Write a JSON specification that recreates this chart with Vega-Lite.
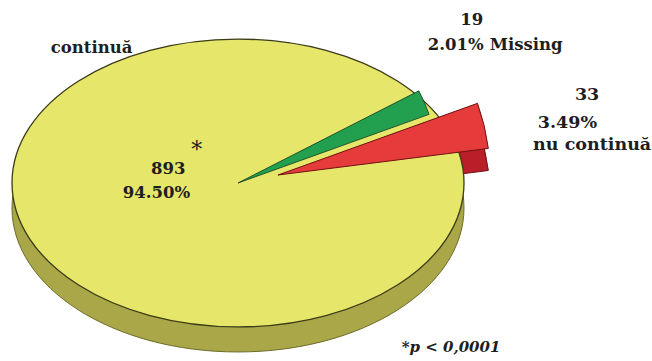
{
  "$schema": "https://vega.github.io/schema/vega-lite/v6.json",
  "width": 476,
  "height": 356,
  "autosize": {"type": "none"},
  "padding": {"left": 0, "top": 5, "right": 176, "bottom": 0},
  "background": "white",
  "config": {
    "view": {"stroke": null},
    "text": {"font": "DejaVu Serif", "fontWeight": "bold", "fontSize": 16.5, "fill": "#1e1e1e", "baseline": "middle"}
  },
  "data": {
    "values": [
      {"category": "continuă", "n": 893, "share": 0.945},
      {"category": "Missing", "n": 19, "share": 0.0201},
      {"category": "nu continuă", "n": 33, "share": 0.0349}
    ]
  },
  "layer": [
    {
      "transform": [{"filter": "datum.category === 'continuă'"}],
      "mark": {"type": "point", "shape": "M-1,0A1,0.637,0,1,1,1,0A1,0.637,0,1,1,-1,0Z", "size": 204304, "filled": true, "opacity": 1, "fill": "#A9A747", "stroke": "#6d6c2c", "strokeWidth": 1, "yOffset": 25}
    },
    {
      "mark": {"type": "arc", "radius": 212, "xOffset": 40, "yOffset": 14, "fill": "#B81F29", "stroke": "#6e1014", "strokeWidth": 1},
      "encoding": {
        "theta": {"field": "n", "type": "quantitative", "stack": true, "scale": {"range": [1.0996, 7.3828]}},
        "order": {"field": "n", "type": "quantitative", "sort": "ascending"},
        "opacity": {"condition": {"test": "datum.category === 'nu continuă'", "value": 1}, "value": 0}
      }
    },
    {
      "transform": [{"filter": "datum.category === 'continuă'"}],
      "mark": {"type": "point", "shape": "M-1,0A1,0.637,0,1,1,1,0A1,0.637,0,1,1,-1,0Z", "size": 204304, "filled": true, "opacity": 1, "fill": "#E6E66B", "stroke": "#3b3b18", "strokeWidth": 1.3}
    },
    {
      "mark": {"type": "arc", "radius": 203, "fill": "#22A04F", "stroke": "#0f3a1c", "strokeWidth": 0.8},
      "encoding": {
        "theta": {"field": "n", "type": "quantitative", "stack": true, "scale": {"range": [1.0996, 7.3828]}},
        "order": {"field": "n", "type": "quantitative", "sort": "ascending"},
        "opacity": {"condition": {"test": "datum.category === 'Missing'", "value": 1}, "value": 0}
      }
    },
    {
      "mark": {"type": "arc", "radius": 212, "xOffset": 40, "yOffset": -8, "fill": "#E53B3B", "stroke": "#701010", "strokeWidth": 1},
      "encoding": {
        "theta": {"field": "n", "type": "quantitative", "stack": true, "scale": {"range": [1.0996, 7.3828]}},
        "order": {"field": "n", "type": "quantitative", "sort": "ascending"},
        "opacity": {"condition": {"test": "datum.category === 'nu continuă'", "value": 1}, "value": 0}
      }
    },
    {
      "mark": {"type": "text", "radius": 260, "dx": -5, "dy": -60, "align": "center"},
      "encoding": {
        "theta": {"field": "n", "type": "quantitative", "stack": true},
        "order": {"field": "n", "type": "quantitative", "sort": "ascending"},
        "text": {"condition": {"test": "datum.category === 'Missing'", "field": "n", "type": "quantitative"}, "value": ""}
      }
    },
    {
      "mark": {"type": "text", "radius": 260, "dx": 7, "dy": -35, "align": "right"},
      "encoding": {
        "theta": {"field": "n", "type": "quantitative", "stack": true},
        "order": {"field": "n", "type": "quantitative", "sort": "ascending"},
        "text": {"condition": {"test": "datum.category === 'Missing'", "field": "share", "type": "quantitative", "format": ".2%"}, "value": ""}
      }
    },
    {
      "mark": {"type": "text", "radius": 260, "dx": 13, "dy": -35, "align": "left"},
      "encoding": {
        "theta": {"field": "n", "type": "quantitative", "stack": true},
        "order": {"field": "n", "type": "quantitative", "sort": "ascending"},
        "text": {"condition": {"test": "datum.category === 'Missing'", "field": "category", "type": "nominal"}, "value": ""}
      }
    },
    {
      "mark": {"type": "text", "radius": 360, "dx": -1, "dy": -4, "align": "center", "fontSize": 17.5},
      "encoding": {
        "theta": {"field": "n", "type": "quantitative", "stack": true},
        "order": {"field": "n", "type": "quantitative", "sort": "ascending"},
        "text": {"condition": {"test": "datum.category === 'nu continuă'", "field": "n", "type": "quantitative"}, "value": ""}
      }
    },
    {
      "mark": {"type": "text", "radius": 360, "dx": 9, "dy": 24, "align": "right", "fontSize": 17.5},
      "encoding": {
        "theta": {"field": "n", "type": "quantitative", "stack": true},
        "order": {"field": "n", "type": "quantitative", "sort": "ascending"},
        "text": {"condition": {"test": "datum.category === 'nu continuă'", "field": "share", "type": "quantitative", "format": ".2%"}, "value": ""}
      }
    },
    {
      "mark": {"type": "text", "radius": 360, "dx": -55, "dy": 46, "align": "left", "fontSize": 17.5},
      "encoding": {
        "theta": {"field": "n", "type": "quantitative", "stack": true},
        "order": {"field": "n", "type": "quantitative", "sort": "ascending"},
        "text": {"condition": {"test": "datum.category === 'nu continuă'", "field": "category", "type": "nominal"}, "value": ""}
      }
    },
    {
      "mark": {"type": "text", "radius": 56, "dx": 1, "dy": -30, "align": "right"},
      "encoding": {
        "theta": {"field": "n", "type": "quantitative", "stack": true},
        "order": {"field": "n", "type": "quantitative", "sort": "ascending"},
        "text": {"condition": {"test": "datum.category === 'continuă'", "field": "n", "type": "quantitative"}, "value": ""}
      }
    },
    {
      "mark": {"type": "text", "radius": 50, "dx": 0, "dy": -5, "align": "right"},
      "encoding": {
        "theta": {"field": "n", "type": "quantitative", "stack": true},
        "order": {"field": "n", "type": "quantitative", "sort": "ascending"},
        "text": {"condition": {"test": "datum.category === 'continuă'", "field": "share", "type": "quantitative", "format": ".2%"}, "value": ""}
      }
    },
    {
      "mark": {"type": "text", "radius": 40, "dx": -3, "dy": -45, "align": "center", "fontSize": 22, "fontWeight": "normal"},
      "encoding": {
        "theta": {"field": "n", "type": "quantitative", "stack": true},
        "order": {"field": "n", "type": "quantitative", "sort": "ascending"},
        "text": {"condition": {"test": "datum.category === 'continuă'", "value": "*"}, "value": ""}
      }
    },
    {
      "mark": {"type": "text", "radius": 150, "dx": -3, "dy": -179, "align": "center"},
      "encoding": {
        "theta": {"field": "n", "type": "quantitative", "stack": true},
        "order": {"field": "n", "type": "quantitative", "sort": "ascending"},
        "text": {"condition": {"test": "datum.category === 'continuă'", "field": "category", "type": "nominal"}, "value": ""}
      }
    },
    {
      "data": {"values": [{"note": "*p < 0,0001"}]},
      "mark": {"type": "text", "dx": 213, "dy": 164, "align": "center", "fontStyle": "italic", "fontSize": 15},
      "encoding": {"text": {"field": "note", "type": "nominal"}}
    }
  ]
}
